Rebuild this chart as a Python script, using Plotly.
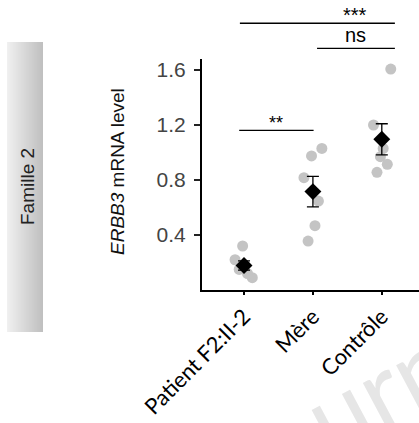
import numpy as np
import plotly.graph_objects as go

# ---------------- data ----------------
categories = ["Patient F2:II-2", "Mère", "Contrôle"]
patient_vals = [0.32, 0.22, 0.15, 0.09, 0.17, 0.12]
mere_vals = [1.03, 0.975, 0.817, 0.647, 0.468, 0.356]
controle_vals = [1.607, 1.20, 1.03, 0.97, 0.914, 0.856]
patient_jit = [-0.02, -0.13, -0.07, 0.12, 0.0, 0.05]
mere_jit = [0.13, -0.02, -0.13, 0.08, 0.03, -0.07]
controle_jit = [0.13, -0.12, 0.02, -0.02, 0.08, -0.07]
y_ticks = [0.4, 0.8, 1.2, 1.6]
sig_labels = ["**", "ns", "***"]

groups = [patient_vals, mere_vals, controle_vals]
jitters = [patient_jit, mere_jit, controle_jit]

W, H = 419, 423
L, R, T, B = 202, 0, 59, 133
PW, PH = W - L - R, H - T - B
XR = [-0.61, 2.54]
YR = [0, 1.68]

def px2paper(px, py):
    return (px - L) / PW, (H - B - py) / PH

def data2paper(x, y):
    return (x - XR[0]) / (XR[1] - XR[0]), (y - YR[0]) / (YR[1] - YR[0])

fig = go.Figure()

# grey individual points
xs, ys = [], []
for i, (vals, jit) in enumerate(zip(groups, jitters)):
    for v, j in zip(vals, jit):
        xs.append(i + j)
        ys.append(v)
fig.add_trace(go.Scatter(x=xs, y=ys, mode="markers",
                         marker=dict(size=11, color="#c4c4c4"),
                         showlegend=False, hoverinfo="skip"))

# mean +/- SEM
means = [float(np.mean(g)) for g in groups]
sems = [float(np.std(g, ddof=1) / np.sqrt(len(g))) for g in groups]
fig.add_trace(go.Scatter(x=list(range(3)), y=means, mode="markers",
                         marker=dict(symbol="diamond", size=13, color="black"),
                         error_y=dict(type="data", array=sems, color="black",
                                      thickness=1.3, width=6),
                         showlegend=False))

# significance bars (data units, converted to paper so they can sit above the axes)
sig_lines = [(-0.07, 1.01, 1.161), (1.06, 2.19, 1.758), (-0.06, 2.19, 1.94)]
sig_text_x = [0.46, 1.62, 1.61]
sig_text_y = [1.25, 1.855, 2.035]
sig_sizes = [18, 20, 20]
for (x0, x1, yv), lab, tx, tyv, fs in zip(sig_lines, sig_labels, sig_text_x, sig_text_y, sig_sizes):
    p0x, py_ = data2paper(x0, yv)
    p1x, _ = data2paper(x1, yv)
    fig.add_shape(type="line", xref="paper", yref="paper", x0=p0x, x1=p1x,
                  y0=py_, y1=py_, line=dict(color="black", width=1.3))
    ptx, pty = data2paper(tx, tyv)
    if lab != "ns":
        pty -= 5 / PH  # asterisks sit high in their line box
    fig.add_annotation(x=ptx, y=pty, xref="paper", yref="paper",
                       text=lab, showarrow=False, xanchor="center", yanchor="middle",
                       font=dict(family="Arial", size=fs, color="black"))

# left "Famille 2" gradient box
bx0, bx1, by0, by1 = 7, 43, 42, 332
n = bx1 - bx0
for k in range(n):
    t = k / (n - 1)
    c = int(240 - t * (240 - 192))
    x0p, y0p = px2paper(bx0 + k, by1)
    x1p, y1p = px2paper(bx0 + k + 1, by0)
    fig.add_shape(type="rect", xref="paper", yref="paper", x0=x0p, x1=x1p,
                  y0=y0p, y1=y1p, line=dict(width=0),
                  fillcolor=f"rgb({c},{c},{c})", layer="below")
fx, fy = px2paper(27, 187)
fig.add_annotation(x=fx, y=fy, xref="paper", yref="paper", text="Famille 2",
                   textangle=-90, showarrow=False, xanchor="center", yanchor="middle",
                   font=dict(family="Arial", size=19, color="#222"))

# y title
tx, ty = px2paper(117, 172)
fig.add_annotation(x=tx, y=ty, xref="paper", yref="paper",
                   text="<i>ERBB3</i> mRNA level", textangle=-90, showarrow=False,
                   xanchor="center", yanchor="middle",
                   font=dict(family="Arial", size=19, color="#111"))

# watermark (only partly inside the canvas, as in the source)
wx, wy = px2paper(368, 394)
fig.add_annotation(x=wx, y=wy, xref="paper", yref="paper", text="Journal",
                   textangle=-28, showarrow=False, xanchor="center", yanchor="middle",
                   font=dict(family="Lato", size=103, color="#e6e6e6"))

fig.update_layout(
    width=W, height=H, margin=dict(l=L, r=R, t=T, b=B, autoexpand=False),
    plot_bgcolor="white", paper_bgcolor="white",
    xaxis=dict(range=XR, tickvals=[0, 1, 2], ticktext=categories, automargin=False,
               tickangle=-45, showline=True, linecolor="black", linewidth=2,
               ticks="outside", ticklen=3, tickwidth=2, tickcolor="black",
               showgrid=False, zeroline=False,
               tickfont=dict(family="Lato", size=22, color="black")),
    yaxis=dict(range=YR, tickvals=y_ticks, ticktext=[f"{v:.1f}" for v in y_ticks],
               automargin=False,
               showline=True, linecolor="black", linewidth=2,
               ticks="outside", ticklen=6, tickwidth=2, tickcolor="#222",
               showgrid=False, zeroline=False, ticklabelstandoff=4,
               tickfont=dict(family="Arial", size=21, color="#444")),
)

fig.write_html("out.html", config={"displayModeBar": False},
               post_script="document.body.style.margin='0px';")
